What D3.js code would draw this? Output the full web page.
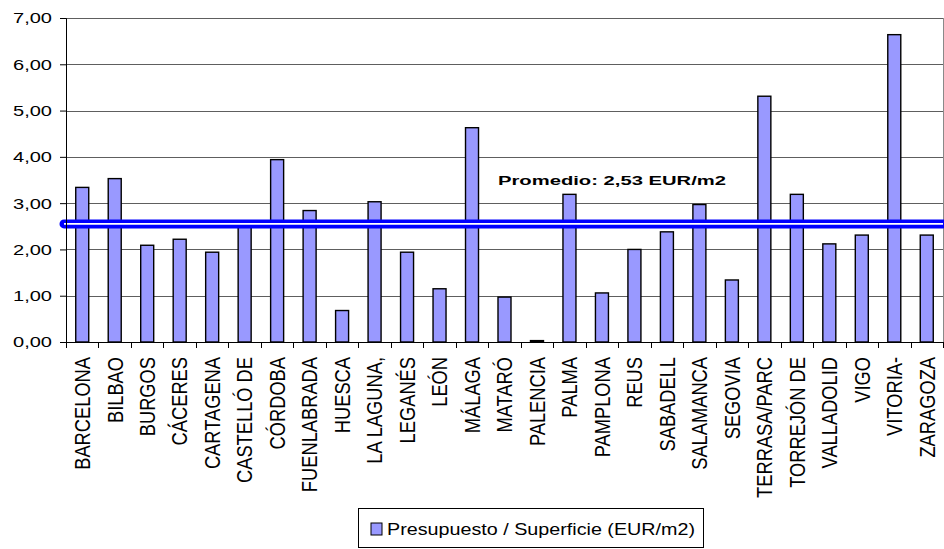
<!DOCTYPE html>
<html>
<head>
<meta charset="utf-8">
<script src="https://cdn.jsdelivr.net/npm/d3@7"></script>
<style>
  body { margin: 0; background: #fff; }
  svg { display: block; font-family: "Liberation Sans", Arial, sans-serif; }
</style>
</head>
<body>
<svg width="944" height="549"></svg>
<script>
// datos
var ciudades = ["BARCELONA", "BILBAO", "BURGOS", "CÁCERES", "CARTAGENA", "CASTELLÓ DE",
  "CÓRDOBA", "FUENLABRADA", "HUESCA", "LA LAGUNA,", "LEGANÉS", "LEÓN", "MÁLAGA",
  "MATARÓ", "PALENCIA", "PALMA", "PAMPLONA", "REUS", "SABADELL", "SALAMANCA",
  "SEGOVIA", "TERRASA/PARC", "TORREJÓN DE", "VALLADOLID", "VIGO", "VITORIA-", "ZARAGOZA"];
var valores = [3.34, 3.53, 2.09, 2.22, 1.94, 2.58, 3.94, 2.84, 0.68, 3.03, 1.94, 1.15, 4.63,
  0.97, 0.03, 3.19, 1.06, 2.00, 2.38, 2.97, 1.34, 5.31, 3.19, 2.12, 2.31, 6.64, 2.31];
var promedio = 2.53;
var yTicks = [0, 1, 2, 3, 4, 5, 6, 7];
var serieNombre = "Presupuesto / Superficie (EUR/m2)";

var svg = d3.select("svg");
var plotLeft = 66, plotRight = 943, plotTop = 18, plotBottom = 342;

var datos = ciudades.map(function(c, i) { return {name: c, value: valores[i]}; });

var x = d3.scaleBand().domain(ciudades).range([plotLeft, plotRight]).paddingInner(0).paddingOuter(0);
var y = d3.scaleLinear().domain([0, 7]).range([plotBottom, plotTop]);
var fmt = function(d) { return d3.format(".2f")(d).replace(".", ","); };

// lineas de division
svg.append("g")
  .selectAll("line")
  .data(yTicks.slice(1))
  .enter().append("line")
  .attr("x1", plotLeft).attr("x2", plotRight)
  .attr("y1", function(d) { return Math.round(y(d)) + 0.5; })
  .attr("y2", function(d) { return Math.round(y(d)) + 0.5; })
  .attr("stroke", "#5e5e5e")
  .attr("stroke-width", 1);

// borde derecho
svg.append("line")
  .attr("x1", plotRight + 0.5).attr("x2", plotRight + 0.5)
  .attr("y1", plotTop).attr("y2", plotBottom)
  .attr("stroke", "#8a8a8a");

var bw = 13;
svg.append("g")
  .selectAll("rect")
  .data(datos)
  .enter().append("rect")
  .attr("x", function(d) { return x(d.name) + x.bandwidth() / 2 - bw / 2; })
  .attr("y", function(d) { return y(d.value); })
  .attr("width", bw)
  .attr("height", function(d) { return plotBottom - y(d.value); })
  .attr("fill", "#9999ff")
  .attr("stroke", "#000")
  .attr("stroke-width", 1.4);

// linea de promedio
svg.append("line")
  .attr("x1", 64).attr("x2", plotRight)
  .attr("y1", y(promedio) - 1).attr("y2", y(promedio) - 1)
  .attr("stroke", "#0000ff")
  .attr("stroke-width", 9)
  .attr("stroke-linecap", "round");
svg.append("line")
  .attr("x1", 64).attr("x2", plotRight)
  .attr("y1", y(promedio) - 1).attr("y2", y(promedio) - 1)
  .attr("stroke", "#ffffff")
  .attr("stroke-width", 1.6);

svg.append("text")
  .attr("x", 498)
  .attr("y", y(promedio) - 40)
  .attr("font-size", 13)
  .attr("font-weight", "bold")
  .attr("textLength", 228)
  .attr("lengthAdjust", "spacingAndGlyphs")
  .text("Promedio: " + fmt(promedio) + " EUR/m2");

// eje y
var yAxis = svg.append("g")
  .attr("transform", "translate(" + plotLeft + ",0)")
  .call(d3.axisLeft(y).tickValues(yTicks).tickFormat(fmt).tickSize(6).tickPadding(8));
yAxis.select(".domain").attr("stroke", "#000");
yAxis.selectAll("text")
  .attr("font-size", 15.5)
  .attr("fill", "#000")
  .attr("textLength", 39)
  .attr("lengthAdjust", "spacingAndGlyphs");

// eje x
var xAxis = svg.append("g")
  .attr("transform", "translate(0," + plotBottom + ")")
  .call(d3.axisBottom(x).tickSize(0).tickSizeOuter(0));
xAxis.select(".domain").attr("stroke", "#000");
xAxis.selectAll("text")
  .attr("font-size", 18.3)
  .attr("fill", "#000")
  .attr("text-anchor", "end")
  .attr("x", -15)
  .attr("y", 0)
  .attr("dy", "0.36em")
  .attr("transform", "rotate(-90) scale(1,1.18)");

svg.append("g")
  .selectAll("line")
  .data(d3.range(ciudades.length + 1))
  .enter().append("line")
  .attr("x1", function(i) { return Math.round(plotLeft + i * x.step()) + 0.5; })
  .attr("x2", function(i) { return Math.round(plotLeft + i * x.step()) + 0.5; })
  .attr("y1", plotBottom).attr("y2", plotBottom + 6)
  .attr("stroke", "#000");

// leyenda
var leg = svg.append("g");
leg.append("rect")
  .attr("x", 358.5).attr("y", 508.5)
  .attr("width", 345).attr("height", 39)
  .attr("fill", "#fff")
  .attr("stroke", "#000");
leg.append("rect")
  .attr("x", 371).attr("y", 523)
  .attr("width", 11).attr("height", 12)
  .attr("fill", "#9999ff")
  .attr("stroke", "#000");
leg.append("text")
  .attr("x", 387)
  .attr("y", 535)
  .attr("font-size", 17)
  .attr("textLength", 308)
  .attr("lengthAdjust", "spacingAndGlyphs")
  .text(serieNombre);
</script>
</body>
</html>
